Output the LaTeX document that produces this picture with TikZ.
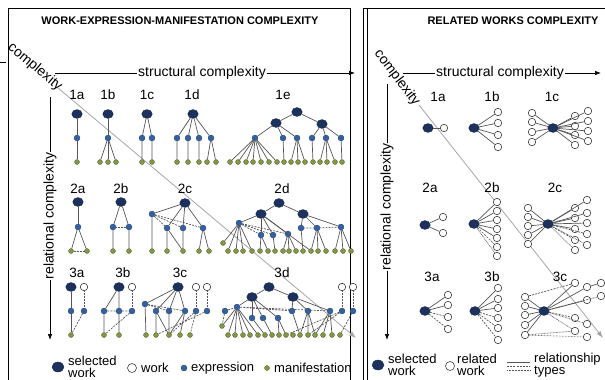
\documentclass[tikz,border=0pt]{standalone}
\usepackage{fontspec}
\setmainfont{Liberation Sans}
\usetikzlibrary{arrows.meta,shapes.geometric}
\definecolor{navy}{RGB}{28,50,92}
\definecolor{exblue}{RGB}{50,96,160}
\definecolor{mfgreen}{RGB}{130,152,72}
\definecolor{edgegray}{RGB}{85,85,85}
\tikzset{
sw/.style={ellipse,fill=navy,draw=navy!80!black,line width=0.3pt,minimum width=10.5pt,minimum height=9pt,inner sep=0pt},
ow/.style={circle,fill=white,draw=black!75,line width=0.6pt,minimum size=7.5pt,inner sep=0pt},
ex/.style={circle,fill=exblue,draw=exblue!70!black,line width=0.3pt,minimum size=6pt,inner sep=0pt},
mf/.style={circle,fill=mfgreen,draw=mfgreen!60!black,line width=0.3pt,minimum size=5pt,inner sep=0pt},
edge/.style={draw=edgegray,line width=0.7pt},
dedge/.style={edge,dash pattern=on 2pt off 1.2pt},
pedge/.style={edge,dash pattern=on 0.7pt off 0.8pt},
lbl/.style={font=\fontsize{13.5}{14}\selectfont,inner sep=0pt},
axis/.style={draw=black,line width=0.7pt,-{Latex[length=6pt,width=4.5pt]}},
axlbl/.style={font=\fontsize{14}{15}\selectfont,fill=white,inner sep=1pt},
diag/.style={draw=black!35,line width=0.8pt,-{Latex[length=7pt,width=5pt]}},
title/.style={font=\fontsize{11}{12}\selectfont\bfseries},
legend/.style={font=\fontsize{13}{11.5}\selectfont,align=left,anchor=west,inner sep=0pt}
}
\begin{document}
\begin{tikzpicture}[x=1pt,y=-1pt]
\useasboundingbox (0,0) rectangle (605,380);
\draw[line width=0.6pt] (8,390) -- (8,8) -- (350,8) -- (350,390);
\draw[line width=0.6pt] (363,390) -- (363,8) -- (610,8);
\draw[line width=0.6pt] (367,390) -- (367,8);
\draw[line width=0.6pt] (0,62) -- (6,62);
\node[title] (ttl) at (180,21) {WORK-EXPRESSION-MANIFESTATION COMPLEXITY};
\node[title] (ttr) at (513,21) {RELATED WORKS COMPLEXITY};
\coordinate (dgl0) at (58,88);
\coordinate (dgl1) at (356,338);
\draw[diag] (dgl0) -- (dgl1);
\coordinate (dgr0) at (419,105);
\coordinate (dgr1) at (603,338);
\draw[diag] (dgr0) -- (dgr1);
\node[font=\fontsize{14}{15}\selectfont,rotate=-40,inner sep=0pt] (cxl) at (35,67) {complexity};
\node[font=\fontsize{14}{15}\selectfont,rotate=-53,inner sep=0pt] (cxr) at (397,78) {complexity};
\coordinate (hxl0) at (55,73);
\coordinate (hxl1) at (355,73);
\draw[axis] (hxl0) -- (hxl1);
\node[axlbl] (hxlt) at (202,73) {structural complexity};
\coordinate (vxl0) at (50,97);
\coordinate (vxl1) at (50,340);
\draw[axis] (vxl0) -- (vxl1);
\node[axlbl,rotate=90] (vxlt) at (50,216) {relational complexity};
\coordinate (hxr0) at (403,73);
\coordinate (hxr1) at (601,73);
\draw[axis] (hxr0) -- (hxr1);
\node[axlbl] (hxrt) at (500,73) {structural complexity};
\coordinate (vxr0) at (387,84);
\coordinate (vxr1) at (387,340);
\draw[axis] (vxr0) -- (vxr1);
\node[axlbl,rotate=90] (vxrt) at (387,207) {relational complexity};
\foreach \x/\t in {77/1a,108/1b,147/1c,192/1d,283/1e} \node[lbl] (l\t) at (\x,95) {\t};
\foreach \x/\t in {78/2a,121/2b,185/2c,282/2d} \node[lbl] (l\t) at (\x,189) {\t};
\foreach \x/\t in {77/3a,123/3b,180/3c,282/3d} \node[lbl] (l\t) at (\x,273) {\t};
\foreach \x/\t in {438/1a,492/1b,552/1c} \node[lbl] (r\t) at (\x,97) {\t};
\foreach \x/\t in {430/2a,492/2b,555/2c} \node[lbl] (r\t) at (\x,188) {\t};
\foreach \x/\t in {432/3a,492/3b,560/3c} \node[lbl] (r\t) at (\x,277) {\t};
\node[sw] (a1w) at (77,114) {};
\node[ex] (a1e) at (77,138) {};
\node[mf] (a1m) at (77,162) {};
\draw[edge] (a1w) -- (a1e) -- (a1m);
\node[sw] (b1w) at (108,114) {};
\node[ex] (b1e) at (108,138) {};
\foreach \x [count=\i] in {100,108,116} \node[mf] (b1m\i) at (\x,162) {};
\draw[edge] (b1w) -- (b1e);
\foreach \i in {1,2,3} \draw[edge] (b1e) -- (b1m\i);
\node[sw] (c1w) at (147,114) {};
\foreach \x [count=\i] in {142,152} {
  \node[ex] (c1e\i) at (\x,138) {};
  \node[mf] (c1m\i) at (\x,162) {};
  \draw[edge] (c1w) -- (c1e\i) -- (c1m\i);
}
\node[sw] (d1w) at (193,114) {};
\foreach \x [count=\i] in {177,188,199,211} {
  \node[ex] (d1e\i) at (\x,138) {};
  \draw[edge] (d1w) -- (d1e\i);
}
\foreach \x [count=\i] in {177,188,199,207,216} \node[mf] (d1m\i) at (\x,162) {};
\draw[edge] (d1e1) -- (d1m1) (d1e2) -- (d1m2) (d1e3) -- (d1m3) (d1e4) -- (d1m4) (d1e4) -- (d1m5);
\node[sw] (e1w) at (297,112) {};
\node[sw] (e1wl) at (276,123) {};
\node[sw] (e1wr) at (322,124) {};
\foreach \x [count=\i] in {255,283,297,312,326,341} \node[ex] (e1e\i) at (\x,138) {};
\foreach \x [count=\i] in {230,238,246,253,261,269,277,284,291,298,305,313,320,327,335,342} \node[mf] (e1m\i) at (\x,162) {};
\draw[edge] (e1wl) -- (e1w) -- (e1wr);
\foreach \i in {1,2,3} \draw[edge] (e1wl) -- (e1e\i);
\foreach \i in {4,5,6} \draw[edge] (e1wr) -- (e1e\i);
\foreach \i in {1,...,7} \draw[edge] (e1e1) -- (e1m\i);
\draw[edge] (e1e2) -- (e1m8);
\foreach \i in {9,10,11} \draw[edge] (e1e3) -- (e1m\i);
\draw[edge] (e1e4) -- (e1m12);
\foreach \i in {13,14,15} \draw[edge] (e1e5) -- (e1m\i);
\draw[edge] (e1e6) -- (e1m16);
\node[sw] (a2w) at (78,202) {};
\node[ex] (a2e) at (78,227) {};
\node[mf] (a2m1) at (71,251) {};
\node[mf] (a2m2) at (87,251) {};
\draw[edge] (a2w) -- (a2e);
\draw[edge] (a2m1) -- (a2e) -- (a2m2);
\draw[pedge] (a2m1) -- (a2m2);
\node[sw] (b2w) at (121,202) {};
\foreach \x [count=\i] in {113,129} {
  \node[ex] (b2e\i) at (\x,227) {};
  \node[mf] (b2m\i) at (\x,251) {};
  \draw[edge] (b2w) -- (b2e\i) -- (b2m\i);
}
\draw[pedge] (b2e1) -- (b2e2);
\node[sw] (c2w) at (185,203) {};
\node[ex] (c2e0) at (152,214) {};
\foreach \x [count=\i] in {167,183,203} \node[ex] (c2e\i) at (\x,228) {};
\foreach \x [count=\i] in {152,167,183,199,209} \node[mf] (c2m\i) at (\x,251) {};
\foreach \i in {0,...,3} \draw[edge] (c2w) -- (c2e\i);
\foreach \i in {1,2,3} \draw[dedge] (c2e0) -- (c2e\i);
\draw[edge] (c2e0) -- (c2m1) (c2e1) -- (c2m2) (c2e1) -- (c2m3) (c2e2) -- (c2m3) (c2e3) -- (c2m4) (c2e3) -- (c2m5);
\node[sw] (d2w) at (279,203) {};
\node[sw] (d2wl) at (261,214) {};
\node[sw] (d2wr) at (303,214) {};
\foreach \x/\y [count=\i] in {239/223,261/235,273/235,288/234,301/228,317/228,341/227} \node[ex] (d2e\i) at (\x,\y) {};
\node[mf] (d2m0) at (223,243) {};
\foreach \x [count=\i] in {228,236,243,252,260,268,275,283,289,296,303,311,318,326,335,343,351} \node[mf] (d2m\i) at (\x,251) {};
\draw[edge] (d2wl) -- (d2w) -- (d2wr);
\foreach \i in {1,...,4} \draw[edge] (d2wl) -- (d2e\i);
\foreach \i in {5,6,7} \draw[edge] (d2wr) -- (d2e\i);
\foreach \i in {2,3,4} \draw[dedge] (d2e1) -- (d2e\i);
\draw[pedge] (d2e5) -- (d2e6) -- (d2e7);
\foreach \i in {0,...,4} \draw[edge] (d2e1) -- (d2m\i);
\draw[edge] (d2e2) -- (d2m5) (d2e2) -- (d2m6) (d2e3) -- (d2m7);
\foreach \i in {8,9,10} \draw[edge] (d2e4) -- (d2m\i);
\draw[edge] (d2wl) -- (d2m12) (d2e5) -- (d2m11);
\foreach \i in {12,13,14} \draw[edge] (d2e6) -- (d2m\i);
\foreach \i in {15,16,17} \draw[edge] (d2e7) -- (d2m\i);
\node[sw] (a3w) at (71,287) {};
\node[ow] (a3o) at (84,287) {};
\node[ex] (a3e1) at (71,311) {};
\node[ex] (a3e2) at (84,311) {};
\node[mf] (a3m) at (71,335) {};
\draw[edge] (a3w) -- (a3e1) -- (a3m);
\draw[pedge] (a3o) -- (a3e2);
\draw[dedge] (a3e2) -- (a3m);
\node[sw] (b3w) at (119,287) {};
\node[ow] (b3o) at (132,287) {};
\foreach \x [count=\i] in {104,119,132} \node[ex] (b3e\i) at (\x,311) {};
\node[mf] (b3m1) at (104,335) {};
\node[mf] (b3m2) at (119,335) {};
\draw[edge] (b3w) -- (b3e1) (b3w) -- (b3e2) (b3e1) -- (b3m1) (b3e2) -- (b3m2);
\draw[pedge] (b3o) -- (b3e3);
\draw[dedge] (b3e1) -- (b3e2) -- (b3e3) (b3e3) -- (b3m1);
\node[sw] (c3w) at (178,287) {};
\node[ow] (c3o1) at (196,287) {};
\node[ow] (c3o2) at (207,287) {};
\node[ex] (c3e0) at (145,304) {};
\foreach \x [count=\i] in {156,169,185,196,207} \node[ex] (c3e\i) at (\x,311) {};
\foreach \x [count=\i] in {146,156,169,180,190} \node[mf] (c3m\i) at (\x,335) {};
\foreach \i in {0,1,2,3} \draw[edge] (c3w) -- (c3e\i);
\draw[pedge] (c3o1) -- (c3e4) (c3o2) -- (c3e5);
\draw[dedge] (c3e0) -- (c3e2) (c3e0) -- (c3e3);
\draw[edge] (c3e0) -- (c3m1) (c3e1) -- (c3m2) (c3e1) -- (c3m3) (c3e2) -- (c3m3) (c3e3) -- (c3m4) (c3e3) -- (c3m3);
\draw[dedge] (c3e4) -- (c3m3) (c3e5) -- (c3m2) (c3e4) -- (c3m5);
\node[sw] (d3w) at (269,287) {};
\node[sw] (d3wl) at (252,297) {};
\node[sw] (d3wr) at (293,297) {};
\node[ow] (d3o1) at (342,287) {};
\node[ow] (d3o2) at (353,287) {};
\foreach \x/\y [count=\i] in {225/311,237/307,252/318,263/318,278/318,292/311,308/311,330/311,342/311,353/311} \node[ex] (d3e\i) at (\x,\y) {};
\node[mf] (d3m0) at (222,326) {};
\foreach \x [count=\i] in {228,235,243,250,258,265,272,279,286,293,300,308,315,323,332,340} \node[mf] (d3m\i) at (\x,335) {};
\draw[edge] (d3wl) -- (d3w) -- (d3wr);
\foreach \i in {2,3,4,5} \draw[edge] (d3wl) -- (d3e\i);
\foreach \i in {6,7,8} \draw[edge] (d3wr) -- (d3e\i);
\draw[pedge] (d3o1) -- (d3e9) (d3o2) -- (d3e10);
\draw[dedge] (d3e2) -- (d3e6) (d3e2) -- (d3e8) (d3e1) -- (d3e2);
\foreach \i in {0,...,5} \draw[edge] (d3e2) -- (d3m\i);
\draw[edge] (d3e3) -- (d3m6) (d3e4) -- (d3m7) (d3e5) -- (d3m8) (d3e5) -- (d3m9);
\draw[edge] (d3e6) -- (d3m11) (d3e7) -- (d3m11) (d3e7) -- (d3m12) (d3e7) -- (d3m13);
\foreach \i in {13,14,15} \draw[edge] (d3e8) -- (d3m\i);
\draw[dedge] (d3e9) -- (d3m12) (d3e10) -- (d3m16) (d3e9) -- (d3m9) (d3e1) -- (d3m0);
\node[sw] (r1aw) at (428,128) {};
\node[ow] (r1ao) at (444,128) {};
\draw[edge] (r1aw) -- (r1ao);
\node[sw] (r1bw) at (474,128) {};
\foreach \y [count=\i] in {112,123,135,147} {
  \node[ow] (r1bo\i) at (498,\y) {};
  \draw[edge] (r1bw) -- (r1bo\i);
}
\node[sw] (r1cw) at (553,128) {};
\foreach \y [count=\i] in {113,122,132,142} {
  \node[ow] (r1cl\i) at (532,\y) {};
  \draw[edge] (r1cw) -- (r1cl\i);
}
\foreach \x/\y [count=\i] in {575/116,588/111,575/126,588/121,575/135,588/131,575/145,588/141} {
  \node[ow] (r1co\i) at (\x,\y) {};
  \draw[edge] (r1cw) -- (r1co\i);
}
\node[sw] (r2aw) at (425,225) {};
\node[ow] (r2ao1) at (443,217) {};
\node[ow] (r2ao2) at (443,233) {};
\draw[edge] (r2ao1) -- (r2aw) -- (r2ao2);
\node[sw] (r2bw) at (474,224) {};
\foreach \y [count=\i] in {202,211,220,229,238,247,256} \node[ow] (r2bo\i) at (497,\y) {};
\foreach \i in {1,...,5} \draw[edge] (r2bw) -- (r2bo\i);
\draw[dedge] (r2bw) -- (r2bo6);
\draw[pedge] (r2bw) -- (r2bo7);
\node[sw] (r2cw) at (548,224) {};
\foreach \y [count=\i] in {208,217,226,235,244} {
  \node[ow] (r2cl\i) at (528,\y) {};
  \draw[edge] (r2cw) -- (r2cl\i);
}
\foreach \x/\y [count=\i] in {587/200,575/208,587/213,575/218,587/223,575/229,587/234,575/240,587/245,575/250} \node[ow] (r2co\i) at (\x,\y) {};
\foreach \i in {1,...,6} \draw[edge] (r2cw) -- (r2co\i);
\draw[dedge] (r2cw) -- (r2co7) (r2cw) -- (r2co8);
\draw[pedge] (r2cw) -- (r2co9) (r2cw) -- (r2co10);
\node[sw] (r3aw) at (425,311) {};
\foreach \y [count=\i] in {295,305,317,329} \node[ow] (r3ao\i) at (448,\y) {};
\draw[edge] (r3aw) -- (r3ao1) (r3aw) -- (r3ao2);
\draw[dedge] (r3aw) -- (r3ao3) (r3aw) -- (r3ao4);
\node[sw] (r3bw) at (475,311) {};
\foreach \y [count=\i] in {288,299,308,318,328,340} \node[ow] (r3bo\i) at (498,\y) {};
\draw[edge] (r3bw) -- (r3bo1) (r3bw) -- (r3bo2) (r3bw) -- (r3bo3);
\draw[dedge] (r3bw) -- (r3bo4) (r3bw) -- (r3bo5) (r3bw) -- (r3bo6);
\node[sw] (r3cw) at (544,311) {};
\foreach \y [count=\i] in {297,306,315,325,335} {
  \node[ow] (r3cl\i) at (525,\y) {};
  \draw[edge] (r3cw) -- (r3cl\i);
}
\foreach \x/\y [count=\i] in {575/283,587/287,601/283,601/296,587/300,575/318,587/324,575/331,587/337} \node[ow] (r3co\i) at (\x,\y) {};
\draw[edge] (r3cw) -- (r3co1) (r3cw) -- (r3co2) (r3cw) -- (r3co5) (r3co2) -- (r3co3);
\draw[dedge] (r3cw) -- (r3co4) (r3cw) -- (r3co6) (r3cl1) -- (r3co1);
\draw[pedge] (r3cw) -- (r3co7) (r3cw) -- (r3co8) (r3cl5) -- (r3co8) (r3cl5) -- (r3co9);
\node[sw,minimum width=12pt,minimum height=10pt] (lgsw) at (58,367) {};
\node[legend] (lgswt) at (68,367) {selected\\work};
\node[ow,minimum size=9pt] (lgow) at (132,368) {};
\node[legend] (lgowt) at (141,368) {work};
\node[ex] (lgex) at (184,368) {};
\node[legend] (lgext) at (191,368) {expression};
\node[mf] (lgmf) at (267,368) {};
\node[legend] (lgmft) at (274,368) {manifestation};
\node[sw,minimum width=12pt,minimum height=10pt] (rlgsw) at (378,365) {};
\node[legend] (rlgswt) at (388,365) {selected\\work};
\node[ow,minimum size=9pt] (rlgow) at (450,366) {};
\node[legend] (rlgowt) at (457,365) {related\\work};
\coordinate (rlt1a) at (507,362);
\coordinate (rlt1b) at (530,362);
\coordinate (rlt2a) at (507,366);
\coordinate (rlt2b) at (530,366);
\coordinate (rlt3a) at (507,370);
\coordinate (rlt3b) at (530,370);
\draw[edge] (rlt1a) -- (rlt1b);
\draw[dedge] (rlt2a) -- (rlt2b);
\draw[pedge] (rlt3a) -- (rlt3b);
\node[legend] (rlgrt) at (534,365) {relationship\\types};
\end{tikzpicture}
\end{document}
